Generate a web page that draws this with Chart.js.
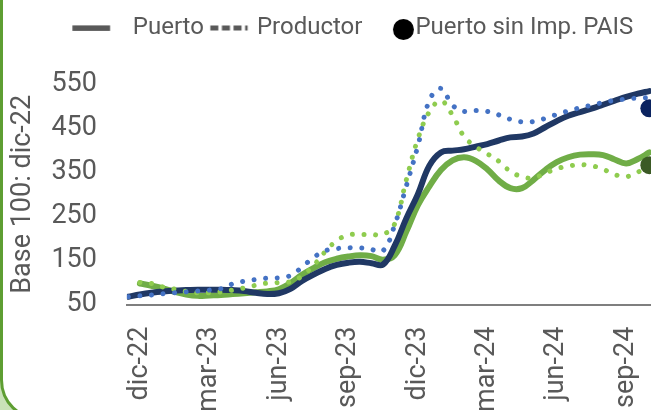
<!DOCTYPE html>
<html><head><meta charset="utf-8">
<script src="https://cdn.jsdelivr.net/npm/chart.js@4.4.1/dist/chart.umd.min.js"></script>
<style>
html,body{margin:0;padding:0;width:651px;height:410px;overflow:hidden;background:#c9e2b8;}
#frame{position:absolute;left:0;top:-60px;width:800px;height:481px;box-sizing:border-box;border:3px solid #5e9e32;border-radius:41px;background:#fff;}
#wrap{position:absolute;left:0;top:0;width:729px;height:412px;}
</style></head><body>
<div id="frame"></div>
<div id="wrap"><canvas id="c" width="729" height="412"></canvas></div>
<script>
// x position of each observation, in months from dic-22
const monthPos = [-0.5, 0, 0.5, 1, 1.5, 2, 2.5, 3, 3.5, 4, 4.5, 5, 5.5, 6, 6.5, 7, 7.5, 8, 8.5, 9, 9.5, 10, 10.5, 11, 11.5, 12, 12.5, 13, 13.5, 14, 14.5, 15, 15.5, 16, 16.5, 17, 17.5, 18, 18.5, 19, 19.5, 20, 20.5, 21, 21.5, 22];
// Puerto (navy)
const puertoA = [68, 73, 77, 80, 82, 83, 84, 84, 84, 83, 81, 77, 74, 76, 86, 104, 118, 131, 140, 145, 147, 144, 141, 183, 245, 300, 365, 395, 399, 402, 408, 414, 422, 429, 431, 438, 452, 466, 478, 486, 494, 503, 512, 521, 528, 534];
// Puerto (green)
const puertoB = [null, 98, 93, 87, 79, 73, 70, 71, 72, 74, 76, 78, 80, 85, 99, 118, 133, 146, 154, 159, 162, 160, 152, 162, 215, 275, 318, 355, 377, 384, 376, 357, 331, 314, 314, 333, 355, 373, 384, 390, 391, 389, 379, 370, 380, 395];
// Productor (blue dotted)
const productorA = [68, 70, 72, 75, 77, 79, 81, 83, 86, 97, 103, 107, 110, 111, 116, 135, 157, 172, 177, 179, 179, 175, 172, 230, 318, 409, 513, 540, 502, 488, 490, 488, 480, 470, 464, 465, 472, 481, 489, 496, 502, 508, 513, 516, 518, 519];
// Productor (light green dotted)
const productorB = [null, 100, 98, 90, 85, 80, 77, 77, 79, 83, 88, 94, 99, 100, 102, 115, 139, 170, 195, 208, 209, 209, 209, 233, 332, 425, 487, 512, 479, 431, 408, 392, 375, 352, 340, 337, 348, 358, 364, 367, 365, 357, 345, 340, 350, 368];
// Puerto sin Imp. PAIS (markers)
const sinPaisPos = [22, 22];
const sinPaisValues = [495, 366];

const tickPos = [0, 3, 6, 9, 12, 15, 18, 21];
const tickLabels = ['dic-22', 'mar-23', 'jun-23', 'sep-23', 'dic-23', 'mar-24', 'jun-24', 'sep-24'];
const legendLabels = ['Puerto', 'Productor', 'Puerto sin Imp. PAIS'];
const yTitle = 'Base 100: dic-22';

const GRAY = '#595959';
const FONT = 'Roboto';

function pts(xs, ys) { return xs.map((x, i) => ({ x: x, y: ys[i] })); }

function sym(draw) {
  const c = document.createElement('canvas');
  c.width = 80; c.height = 30;
  draw(c.getContext('2d'));
  return c;
}
const symLine = sym(g => { g.fillStyle = GRAY; g.fillRect(4.1, 12.4, 37.7, 5.5); });
const symDots = sym(g => {
  g.fillStyle = GRAY;
  [17.9, 29.5, 41.1].forEach(x => g.fillRect(x, 12.5, 8, 5));
  g.fillRect(52.7, 12.5, 2.5, 5);
});
const symCircle = sym(g => { g.fillStyle = '#000'; g.beginPath(); g.arc(52.5, 16.5, 10.5, 0, Math.PI * 2); g.fill(); });
const legendSyms = [symLine, symDots, symCircle];

const legendGap = {
  id: 'legendGap',
  beforeLayout(chart) {
    const lg = chart.legend;
    if (lg && !lg.__gap) {
      const fit = lg.fit;
      lg.fit = function () { fit.call(this); this.height += 34; };
      lg.__gap = true;
    }
  }
};

// Chart.js counts tick padding on both sides of the labels; keep it on the chart side only
const singlePadW = ax => { ax.width -= ax.options.ticks.padding; };
const singlePadH = ax => { ax.height -= ax.options.ticks.padding; };

const lineBase = { pointRadius: 0, pointHoverRadius: 0, tension: 0.4, borderCapStyle: 'round', borderJoinStyle: 'round', fill: false };

new Chart(document.getElementById('c'), {
  type: 'line',
  data: {
    datasets: [
      { label: legendLabels[2], data: pts(sinPaisPos, sinPaisValues), showLine: false,
        pointRadius: 9, pointHoverRadius: 9, pointBorderWidth: 0,
        pointBackgroundColor: ['#0b2360', '#3b5a25'], borderColor: 'transparent', order: 0 },
      Object.assign({}, lineBase, { label: legendLabels[1], data: pts(monthPos, productorA), borderColor: '#4472c4', borderWidth: 5, borderDash: [0.01, 11.6], order: 1 }),
      Object.assign({}, lineBase, { label: legendLabels[1], data: pts(monthPos, productorB), borderColor: '#8fcc4f', borderWidth: 5, borderDash: [0.01, 11.6], order: 2 }),
      Object.assign({}, lineBase, { label: legendLabels[0], data: pts(monthPos, puertoA), borderColor: '#203864', borderWidth: 6, order: 3 }),
      Object.assign({}, lineBase, { label: legendLabels[0], data: pts(monthPos, puertoB), borderColor: '#70ad47', borderWidth: 6, order: 4 })
    ]
  },
  options: {
    responsive: false,
    animation: false,
    layout: { padding: 0 },
    plugins: {
      tooltip: { enabled: false },
      legend: {
        position: 'top',
        align: 'center',
        labels: {
          usePointStyle: true,
          pointStyleWidth: 25,
          padding: 16,
          color: GRAY,
          font: { family: FONT, size: 24 },
          generateLabels: () => legendLabels.map((t, i) => ({
            text: t, pointStyle: legendSyms[i], fillStyle: 'transparent', strokeStyle: 'transparent',
            lineWidth: 1, fontColor: GRAY, hidden: false, datasetIndex: i
          }))
        }
      }
    },
    scales: {
      x: {
        type: 'linear',
        min: -0.56,
        max: 25.05,
        afterBuildTicks: ax => { ax.ticks = tickPos.map(v => ({ value: v })); },
        afterFit: singlePadH,
        ticks: {
          autoSkip: false, minRotation: 90, maxRotation: 90, padding: 22,
          color: GRAY, font: { family: FONT, size: 27 },
          callback: v => { const k = tickPos.indexOf(v); return k >= 0 ? tickLabels[k] : ''; }
        },
        grid: { display: false, drawTicks: false },
        border: { display: true, color: '#7f7f7f', width: 2 }
      },
      y: {
        min: 50, max: 550,
        afterFit: singlePadW,
        ticks: { stepSize: 100, padding: 30, color: GRAY, font: { family: FONT, size: 27 } },
        grid: { display: false, drawTicks: false },
        border: { display: false },
        title: { display: true, text: yTitle, color: GRAY, font: { family: FONT, size: 27 }, padding: { top: 7, bottom: 12 } }
      }
    }
  },
  plugins: [legendGap]
});
</script></body></html>
